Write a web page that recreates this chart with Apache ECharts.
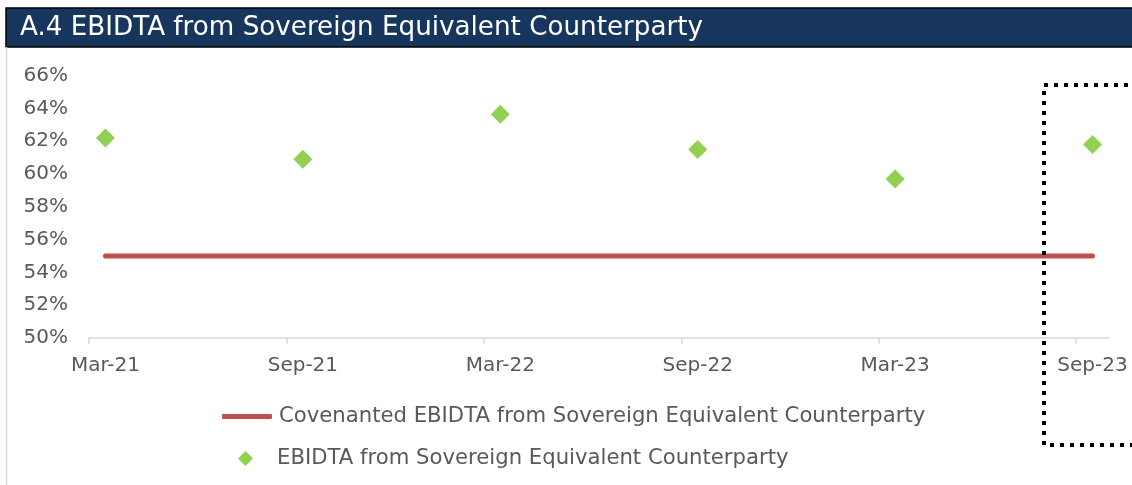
<!DOCTYPE html>
<html>
<head>
<meta charset="utf-8">
<script src="https://cdn.jsdelivr.net/npm/echarts@6/dist/echarts.min.js"></script>
<style>
html,body{margin:0;padding:0;background:#fff;}
#chart{width:1132px;height:485px;}
</style>
</head>
<body>
<div id="chart"></div>
<script>
const titleText = 'A.4 EBIDTA from Sovereign Equivalent Counterparty';
const categories = ['Mar-21', 'Sep-21', 'Mar-22', 'Sep-22', 'Mar-23', 'Sep-23'];
const ebitdaValues = [62.2, 60.9, 63.65, 61.5, 59.7, 61.8];
const covenantValues = [55, 55, 55, 55, 55, 55];
const yTicks = [50, 52, 54, 56, 58, 60, 62, 64, 66];
const seriesNames = ['Covenanted EBIDTA from Sovereign Equivalent Counterparty', 'EBIDTA from Sovereign Equivalent Counterparty'];

// x position: months since Mar-21 boundary (data sits half a month after each 6-month tick)
const xPos = categories.map((c, i) => i * 6 + 0.5);
const tickPos = categories.map((c, i) => i * 6);

const font = '"DejaVu Sans", sans-serif';
const chart = echarts.init(document.getElementById('chart'));
chart.setOption({
  animation: false,
  textStyle: { fontFamily: font },
  title: {
    text: titleText,
    left: 20, top: 15, padding: 0,
    textStyle: { color: '#ffffff', fontSize: 26.2, fontWeight: 'normal', fontFamily: font }
  },
  graphic: [
    { type: 'rect', z: -1, shape: { x: 6, y: 8, width: 1140, height: 39 }, style: { fill: '#17365d', stroke: '#000', lineWidth: 1.5 } },
    { type: 'line', shape: { x1: 6.5, y1: 47, x2: 6.5, y2: 485 }, style: { stroke: '#d9d9d9', lineWidth: 1.5 } },
    { type: 'rect', z: 10, shape: { x: 1044, y: 85, width: 200, height: 360 }, style: { fill: 'none', stroke: '#000', lineWidth: 4, lineDash: [4, 6] } }
  ],
  grid: { left: 89, right: 23, top: 75.7, bottom: 147, containLabel: false },
  legend: [
    {
      left: 222, top: 406, padding: 0,
      itemWidth: 50, itemHeight: 5,
      textStyle: { color: '#595959', fontSize: 21.2, fontFamily: font, padding: [0, 0, 0, 2] },
      data: [{ name: seriesNames[0], icon: 'roundRect' }]
    },
    {
      left: 238, top: 448, padding: 0,
      itemWidth: 15, itemHeight: 15,
      textStyle: { color: '#595959', fontSize: 21.2, fontFamily: font, padding: [0, 0, 0, 19] },
      data: [{ name: seriesNames[1], icon: 'diamond' }]
    }
  ],
  xAxis: {
    type: 'value', min: 0, max: 31, interval: 6,
    axisLine: { show: true, lineStyle: { color: '#d9d9d9', width: 1.5 } },
    axisTick: { show: true, length: 6, lineStyle: { color: '#d9d9d9', width: 1.5 }, customValues: tickPos },
    axisLabel: {
      color: '#595959', fontSize: 20, margin: 18, fontFamily: font,
      customValues: xPos,
      formatter: v => categories[Math.round((v - 0.5) / 6)]
    },
    splitLine: { show: false }
  },
  yAxis: {
    type: 'value', min: yTicks[0], max: yTicks[yTicks.length - 1], interval: 2,
    axisLine: { show: false }, axisTick: { show: false },
    splitLine: { show: false },
    axisLabel: { color: '#595959', fontSize: 20, margin: 21, fontFamily: font, formatter: '{value}%' }
  },
  series: [
    {
      name: seriesNames[0], type: 'line', symbol: 'none',
      data: xPos.map((x, i) => [x, covenantValues[i]]),
      lineStyle: { color: '#c0504d', width: 5, cap: 'round' },
      itemStyle: { color: '#c0504d' }
    },
    {
      name: seriesNames[1], type: 'scatter', symbol: 'diamond', symbolSize: 19,
      data: xPos.map((x, i) => [x, ebitdaValues[i]]),
      itemStyle: { color: '#92d050', opacity: 1 }
    }
  ]
});
</script>
</body>
</html>
